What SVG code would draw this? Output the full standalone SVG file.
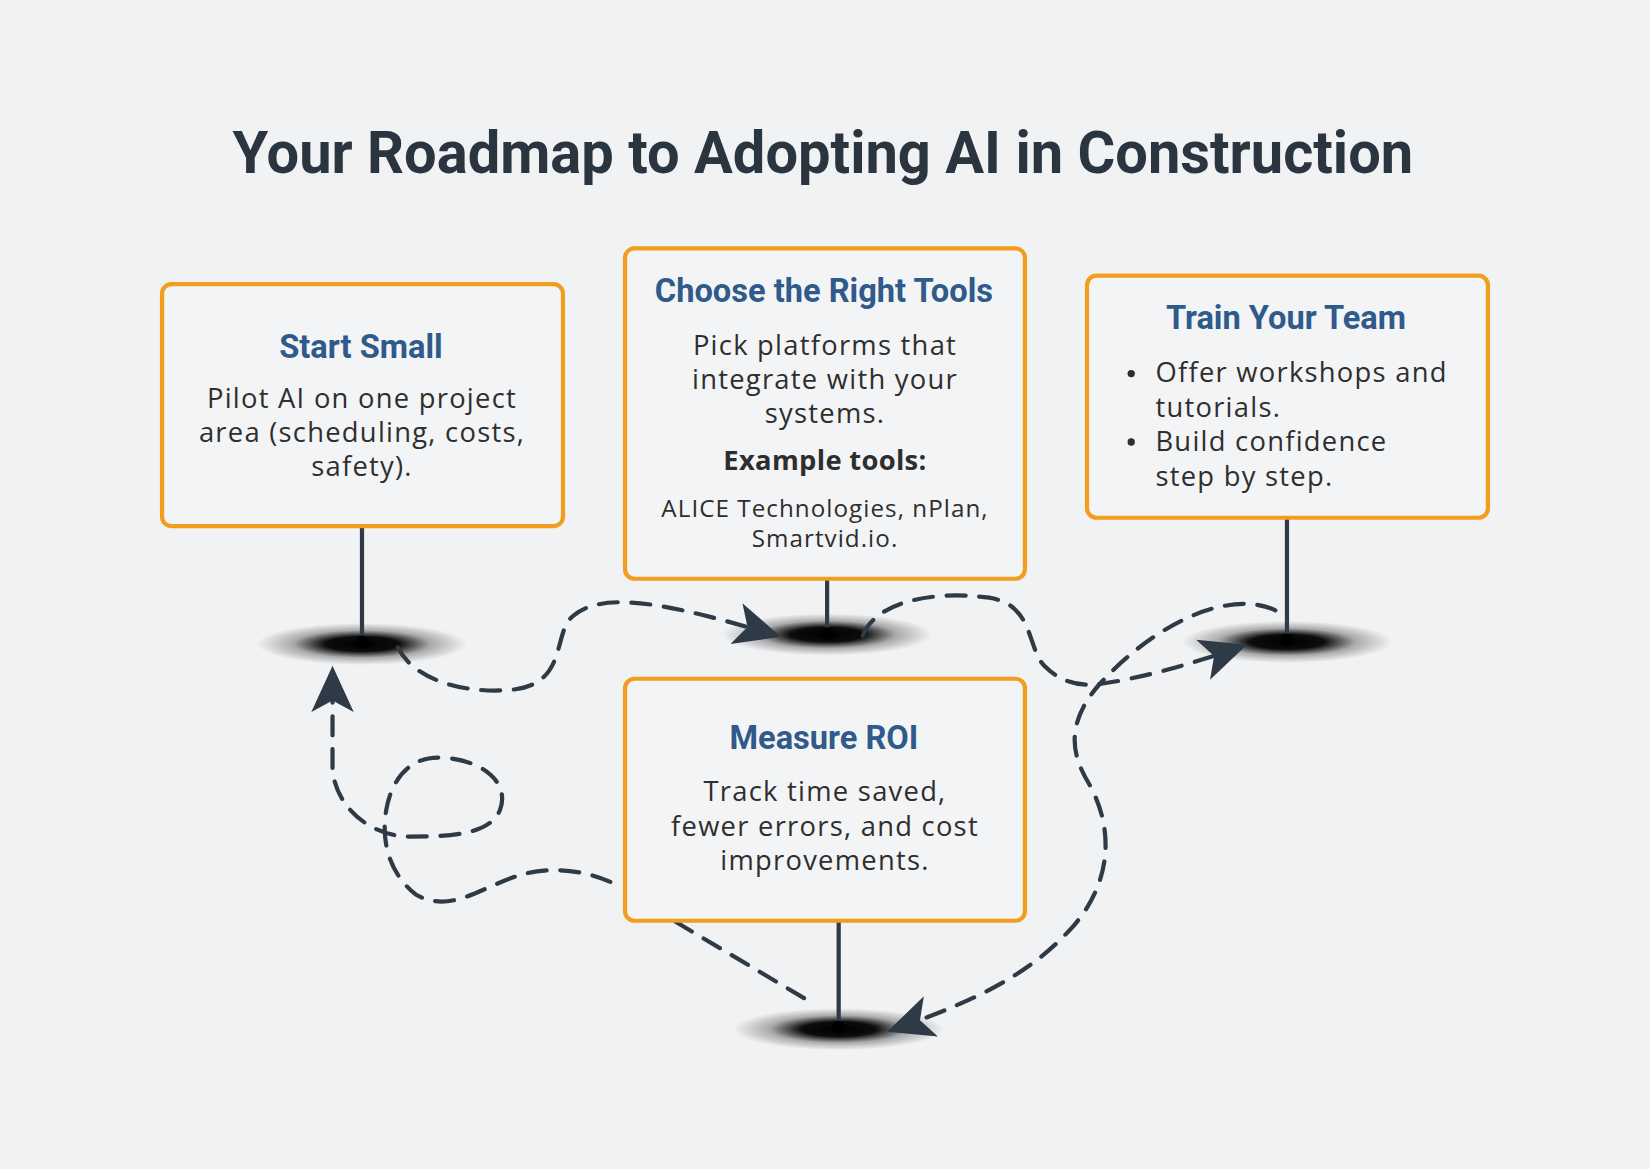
<svg xmlns="http://www.w3.org/2000/svg" width="1650" height="1169" viewBox="0 0 1650 1169">
<defs>
<radialGradient id="sh">
<stop offset="0" stop-color="#000" stop-opacity="1"/>
<stop offset="0.35" stop-color="#000" stop-opacity="0.95"/>
<stop offset="0.65" stop-color="#000" stop-opacity="0.3"/>
<stop offset="1" stop-color="#000" stop-opacity="0"/>
</radialGradient>
<marker id="ah" viewBox="0 0 24 24" refX="20" refY="12" markerWidth="44" markerHeight="44" markerUnits="userSpaceOnUse" orient="auto">
<path d="M0,1 L24,12 L0,23 L6,12 z" fill="#2E3A46"/>
</marker>
<style>
.box{fill:#F3F4F6;stroke:#F29D1E;stroke-width:4}
.pole{stroke:#2E3A46;stroke-width:4}
.t{font-family:Roboto,"Liberation Sans",sans-serif;font-weight:bold;fill:#2F5A8A;font-size:31px;text-anchor:middle}
.b{font-family:"Open Sans","Liberation Sans",sans-serif;fill:#2E2E2E;font-size:26px;letter-spacing:1.2px;text-anchor:middle}
.s{font-family:"Open Sans","Liberation Sans",sans-serif;fill:#2E2E2E;font-size:23px;letter-spacing:1px;text-anchor:middle}
.dash{fill:none;stroke:#2E3A46;stroke-width:4;stroke-dasharray:18 13;stroke-linecap:round}
</style>
</defs>
<rect width="1650" height="1169" fill="#F1F2F4"/>
<g transform="scale(1.0523)">
<text x="782" y="164" font-family="Roboto,'Liberation Sans',sans-serif" font-weight="bold" font-size="56" fill="#2B3540" text-anchor="middle" textLength="1122" lengthAdjust="spacingAndGlyphs">Your Roadmap to Adopting AI in Construction</text>

<g id="shadows">
<ellipse cx="344" cy="612" rx="100" ry="20" fill="url(#sh)"/>
<ellipse cx="786" cy="603" rx="100" ry="20" fill="url(#sh)"/>
<ellipse cx="1223" cy="610" rx="100" ry="20" fill="url(#sh)"/>
<ellipse cx="797" cy="978" rx="100" ry="20" fill="url(#sh)"/>
</g>

<g id="connectors">
<path class="dash" d="M378,615 C395,650 450,660 490,655 C540,648 525,600 545,585 C575,560 640,575 735,603" marker-end="url(#ah)"/>
<path class="dash" d="M820,604 C830,575 880,560 940,568 C985,575 975,620 995,635 C1010,650 1030,652 1045,650"/>
<path class="dash" d="M1045,650 C1080,645 1120,635 1178,615" marker-end="url(#ah)"/>
<path class="dash" d="M1212,580 C1170,560 1100,590 1045,650 C1010,690 1020,720 1035,745 C1060,790 1055,840 1020,880 C980,925 930,950 850,978" marker-end="url(#ah)"/>
<path class="dash" d="M642,876 L775,955"/>
<path class="dash" d="M580,838 C550,825 520,825 500,830 C460,840 430,870 395,850 C370,830 362,800 367,770 C372,740 390,718 420,720 C460,722 485,745 475,770 C465,795 420,795 390,795 C350,795 318,765 316,730 L316,640" marker-end="url(#ah)"/>
</g>

<g id="n1">
<line class="pole" x1="344" y1="500" x2="344" y2="610"/><circle cx="344" cy="610" r="6" fill="#000"/>
<rect class="box" x="154" y="270" width="381" height="230" rx="9"/>
<text class="t" x="343" y="340">Start Small</text>
<text class="b" x="344" y="388">Pilot AI on one project</text>
<text class="b" x="344" y="420">area (scheduling, costs,</text>
<text class="b" x="344" y="452">safety).</text>
</g>
<g id="n2">
<line class="pole" x1="786" y1="550" x2="786" y2="602"/><circle cx="786" cy="602" r="6" fill="#000"/>
<rect class="box" x="594" y="236" width="380" height="314" rx="9"/>
<text class="t" x="783" y="287">Choose the Right Tools</text>
<text class="b" x="784" y="337">Pick platforms that</text>
<text class="b" x="784" y="370">integrate with your</text>
<text class="b" x="784" y="402">systems.</text>
<text class="b" x="784" y="447" font-weight="bold" style="letter-spacing:0.3px">Example tools:</text>
<text class="s" x="784" y="491">ALICE Technologies, nPlan,</text>
<text class="s" x="784" y="520">Smartvid.io.</text>
</g>
<g id="n3">
<line class="pole" x1="1223" y1="492" x2="1223" y2="608"/><circle cx="1223" cy="608" r="6" fill="#000"/>
<rect class="box" x="1033" y="262" width="381" height="230" rx="9"/>
<text class="t" x="1222" y="313">Train Your Team</text>
<g class="b" style="text-anchor:start">
<circle cx="1075" cy="355" r="3.5" fill="#2E2E2E"/><circle cx="1075" cy="420" r="3.5" fill="#2E2E2E"/>
<text x="1098" y="363">Offer workshops and</text>
<text x="1098" y="396">tutorials.</text>
<text x="1098" y="429">Build confidence</text>
<text x="1098" y="462">step by step.</text>
</g>
</g>
<g id="n4">
<line class="pole" x1="797" y1="875" x2="797" y2="976"/><circle cx="797" cy="976" r="6" fill="#000"/>
<rect class="box" x="594" y="645" width="380" height="230" rx="9"/>
<text class="t" x="783" y="712">Measure ROI</text>
<text class="b" x="784" y="761">Track time saved,</text>
<text class="b" x="784" y="794">fewer errors, and cost</text>
<text class="b" x="784" y="827">improvements.</text>
</g>
</g>
</svg>
